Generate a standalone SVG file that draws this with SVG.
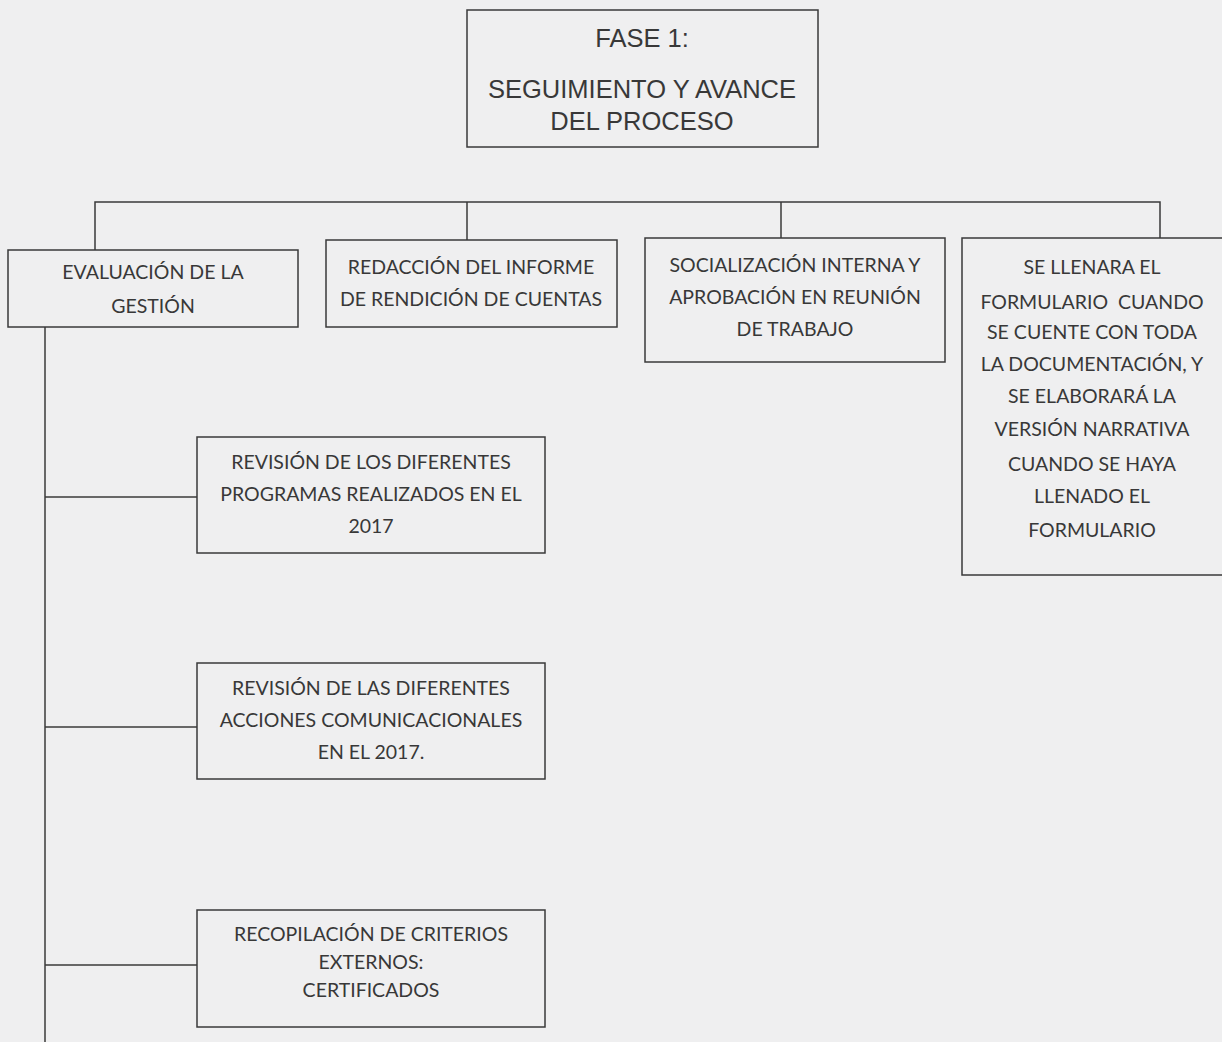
<svg xmlns="http://www.w3.org/2000/svg" width="1222" height="1042" viewBox="0 0 1222 1042">
<style>
.bg{fill:#efeff0}
.box{fill:none;stroke:#3a3a3a;stroke-width:1.5}
.ln{fill:none;stroke:#3a3a3a;stroke-width:1.5}
.t{font-family:Lato,"Open Sans",sans-serif;font-size:19.5px;fill:#383838;text-anchor:middle;white-space:pre}
.h{font-family:"Liberation Sans",Arial,sans-serif;font-size:25.5px;fill:#383838;text-anchor:middle}
</style>
<rect class="bg" x="0" y="0" width="1222" height="1042"/>
<g id="connectors">
<polyline class="ln" points="95,250 95,202 1160,202 1160,238"/>
<line class="ln" x1="467" y1="202" x2="467" y2="240"/>
<line class="ln" x1="781" y1="202" x2="781" y2="238"/>
<line class="ln" x1="45" y1="327" x2="45" y2="1042"/>
<line class="ln" x1="45" y1="497" x2="197" y2="497"/>
<line class="ln" x1="45" y1="727" x2="197" y2="727"/>
<line class="ln" x1="45" y1="965" x2="197" y2="965"/>
</g>
<g id="fase1">
<rect class="box" x="467" y="10" width="351" height="137"/>
<text class="h" x="642" y="47">FASE 1:</text>
<text class="h" x="642" y="98">SEGUIMIENTO Y AVANCE</text>
<text class="h" x="642" y="130">DEL PROCESO</text>
</g>
<g id="evaluacion">
<rect class="box" x="8" y="250" width="290" height="77"/>
<text class="t" x="153" y="279">EVALUACIÓN DE LA</text>
<text class="t" x="153" y="313">GESTIÓN</text>
</g>
<g id="redaccion">
<rect class="box" x="326" y="240" width="291" height="87"/>
<text class="t" x="471" y="274">REDACCIÓN DEL INFORME</text>
<text class="t" x="471" y="306">DE RENDICIÓN DE CUENTAS</text>
</g>
<g id="socializacion">
<rect class="box" x="645" y="238" width="300" height="124"/>
<text class="t" x="795" y="272">SOCIALIZACIÓN INTERNA Y</text>
<text class="t" x="795" y="304">APROBACIÓN EN REUNIÓN</text>
<text class="t" x="795" y="336">DE TRABAJO</text>
</g>
<g id="formulario">
<polyline class="box" points="1222,238 962,238 962,575 1222,575"/>
<text class="t" x="1092" y="274">SE LLENARA EL</text>
<text class="t" x="1092" y="309">FORMULARIO  CUANDO</text>
<text class="t" x="1092" y="339">SE CUENTE CON TODA</text>
<text class="t" x="1092" y="371">LA DOCUMENTACIÓN, Y</text>
<text class="t" x="1092" y="403">SE ELABORARÁ LA</text>
<text class="t" x="1092" y="436">VERSIÓN NARRATIVA</text>
<text class="t" x="1092" y="471">CUANDO SE HAYA</text>
<text class="t" x="1092" y="503">LLENADO EL</text>
<text class="t" x="1092" y="537">FORMULARIO</text>
</g>
<g id="programas">
<rect class="box" x="197" y="437" width="348" height="116"/>
<text class="t" x="371" y="469">REVISIÓN DE LOS DIFERENTES</text>
<text class="t" x="371" y="501">PROGRAMAS REALIZADOS EN EL</text>
<text class="t" x="371" y="533">2017</text>
</g>
<g id="acciones">
<rect class="box" x="197" y="663" width="348" height="116"/>
<text class="t" x="371" y="695">REVISIÓN DE LAS DIFERENTES</text>
<text class="t" x="371" y="727">ACCIONES COMUNICACIONALES</text>
<text class="t" x="371" y="759">EN EL 2017.</text>
</g>
<g id="criterios">
<rect class="box" x="197" y="910" width="348" height="117"/>
<text class="t" x="371" y="941">RECOPILACIÓN DE CRITERIOS</text>
<text class="t" x="371" y="969">EXTERNOS:</text>
<text class="t" x="371" y="997">CERTIFICADOS</text>
</g>
</svg>
